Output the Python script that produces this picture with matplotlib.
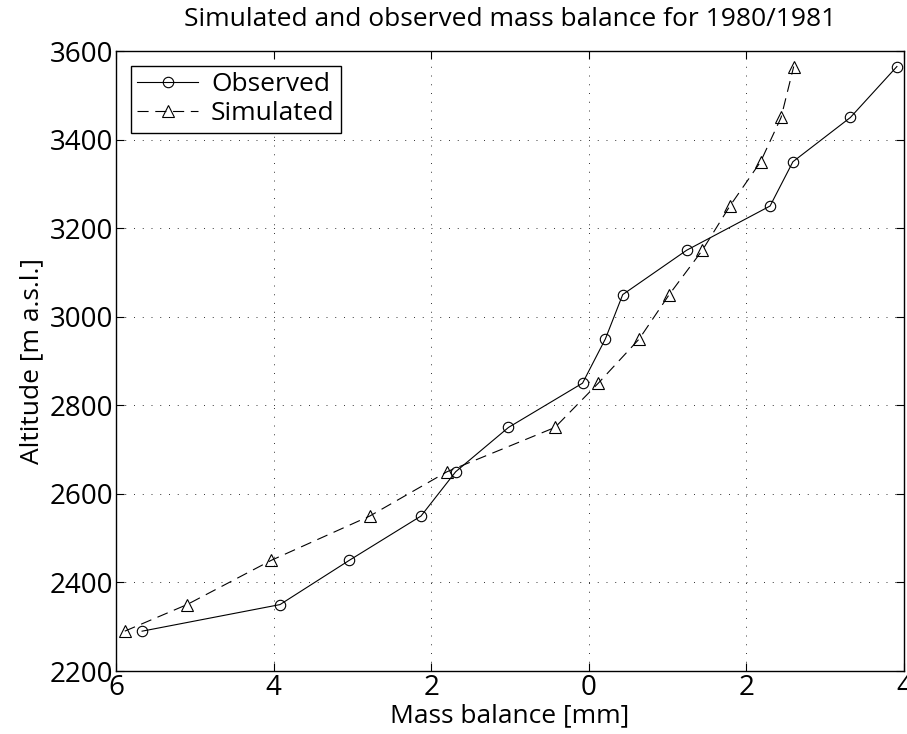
import matplotlib as mpl
import matplotlib.pyplot as plt
import numpy as np

plt.rcParams['font.family'] = ['Open Sans', 'DejaVu Sans']

altitude = np.array([2290, 2350, 2450, 2550, 2650, 2750, 2850, 2950,
                     3050, 3150, 3250, 3350, 3450, 3565])
observed = np.array([-5.67, -3.92, -3.04, -2.13, -1.69, -1.02, -0.08, 0.21,
                     0.43, 1.24, 2.30, 2.59, 3.32, 3.91])
simulated = np.array([-5.89, -5.10, -4.03, -2.78, -1.80, -0.43, 0.12, 0.64,
                      1.02, 1.44, 1.79, 2.18, 2.44, 2.60])

xticks = [-6, -4, -2, 0, 2, 4]
xticklabels = ['6', '4', '2', '0', '2', '4']
yticks = [2200, 2400, 2600, 2800, 3000, 3200, 3400, 3600]

fig = plt.figure(figsize=(9.07, 7.34), dpi=100)
ax = fig.add_axes([0.128, 0.0858, 0.8687, 0.8447])

ax.plot(observed, altitude, color='black', linestyle='-', linewidth=0.8,
        marker='o', markersize=7.5, markerfacecolor='none',
        markeredgewidth=0.8, label='Observed')
ax.plot(simulated, altitude, color='black', linestyle=(0, (10, 6)), linewidth=0.8,
        marker='^', markersize=8, markerfacecolor='none',
        markeredgewidth=0.8, label='Simulated')

ax.set_xlim(-6, 4)
ax.set_ylim(2200, 3600)
ax.set_xticks(xticks)
ax.set_xticklabels(xticklabels)
ax.set_yticks(yticks)

ax.tick_params(direction='in', top=True, right=True, length=6, width=0.8,
               labelsize=20, pad=2)
for s in ax.spines.values():
    s.set_linewidth(1.0)

ax.grid(True, linestyle=(0, (1, 8)), color='black', linewidth=0.7, alpha=0.8)

ax.set_xlabel('Mass balance [mm]', fontsize=19, labelpad=1)
ax.set_ylabel('Altitude [m a.s.l.]', fontsize=19, labelpad=4)
ax.set_title('Simulated and observed mass balance for 1980/1981', fontsize=19, pad=18)

leg = ax.legend(loc='upper left', fontsize=19, fancybox=False, framealpha=1,
                edgecolor='black', handlelength=2.3, borderpad=0.25,
                labelspacing=0.15, handletextpad=0.5, borderaxespad=0.55)
leg.get_frame().set_linewidth(1.0)

plt.savefig('out.png', dpi=100)
